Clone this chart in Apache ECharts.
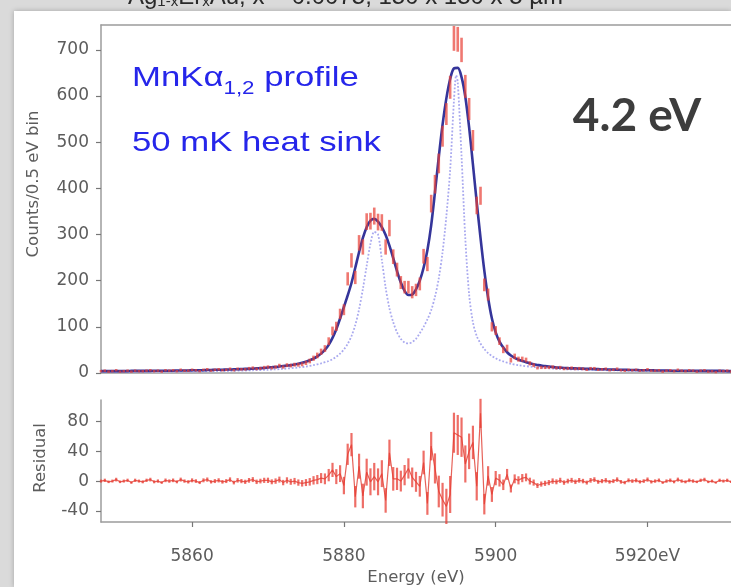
<!DOCTYPE html>
<html>
<head>
<meta charset="utf-8">
<script src="https://cdn.jsdelivr.net/npm/echarts@6.0.0/dist/echarts.min.js"></script>
<style>
  html, body { margin: 0; padding: 0; background: #dadada; }
  .panel {
    position: absolute; left: 14px; top: 11px; width: 717px; height: 576px;
    background: #ffffff; box-shadow: 0 0 5px rgba(0, 0, 0, 0.25);
  }
  #chart { position: absolute; left: 0; top: 0; width: 731px; height: 587px; }
</style>
</head>
<body>
<div class="panel"></div>
<div id="chart"></div>
<script>
// 0.5 eV bins, first bin at 5848 eV
const BIN_START = 5848;
const BIN_WIDTH = 0.5;

// measured counts per bin
const counts = [
  4, 5, 3, 4, 6, 3, 4, 5, 3, 5, 4, 4, 5, 6, 4, 5, 3, 6, 5, 6, 4, 7, 5, 5, 7, 6, 4, 7, 8, 5,
  7, 8, 6, 7, 9, 6, 9, 8, 8, 10, 11, 9, 10, 12,
  13, 11, 13, 16, 13, 17, 16, 18, 18, 19, 22, 26, 32, 38, 46, 53, 69, 91, 101, 128,
  137, 204, 244, 207, 282, 273, 328, 329, 340, 327, 326, 273, 314, 252, 224, 196, 186, 186, 175, 180,
  193, 253, 236, 367, 409, 454, 513, 561, 619, 725, 723, 700, 621, 572, 504, 363, 384, 191, 170, 100,
  92, 69, 50, 54, 28, 36, 30, 30, 28, 21, 17, 11, 12, 12, 12, 13, 11, 12, 9, 10, 11,
  9, 10, 9, 7, 10, 10, 7, 8, 9, 6, 7, 9, 6, 5, 7, 6, 7, 5, 6, 8,
  5, 5, 6, 3, 5, 6, 4, 7, 5, 4, 6, 5, 3, 5, 6, 3, 4, 2, 5, 4, 5, 3
];

// fitted profile, same bins
const fitCounts = [
  4, 4, 4, 4, 4, 4, 4, 4, 4.5, 4.5, 4.5, 4.5, 4.5, 4.5, 5, 5, 5, 5, 5, 5, 5.5, 5.5, 5.5, 5.5,
  6, 6, 6, 6, 6.5, 6.5, 7, 7, 7, 7.5, 7.5, 8, 8, 8.5, 9, 9, 9.5, 10, 10.5, 11,
  12, 12.5, 13, 14, 15, 16, 17, 18.5, 20, 22, 24.5, 27.5, 31, 36, 42, 50, 61, 76, 95, 118,
  143, 168, 195, 228, 262, 293, 316, 330, 334, 328, 316, 299, 276, 249, 221, 196, 178, 169, 170, 181,
  200, 228, 266, 320, 392, 468, 538, 595, 637, 660, 661, 641, 598, 532, 452, 370, 293, 222, 163, 118,
  88, 68, 55, 45, 38, 33, 29, 26, 23.5, 21, 19, 17.5, 16, 15, 14, 13, 12, 11.5, 11, 10.5, 10,
  10, 9.5, 9.5, 9, 9, 8.5, 8.5, 8, 8, 7.5, 7.5, 7, 7, 7, 6.5, 6.5, 6.5, 6, 6, 6,
  6, 5.5, 5.5, 5.5, 5.5, 5, 5, 5, 5, 5, 5, 5, 4.5, 4.5, 4.5, 4.5, 4.5, 4.5, 4.5, 4.5, 4, 4
];

// residual (data - fit), same bins
const residuals = [
  0, 1, -1, 0, 2, -1, 0, 1, -2, 1, 0, -1, 1, 2, -1, 0, -2, 1, 0, 1, -1, 2, 0, -1, 1, 0, -2, 1, 2, -1,
  0, 1, -1, 0, 2, -2, 1, 0, -1, 1, 2, -1, 0, 1,
  1, -1, 0, 2, -2, 1, -1, 0, -2, -3, -2, -1, 1, 2, 4, 3, 8, 15, 6, 10,
  -6, 36, 49, -21, 20, -20, 12, -1, 6, -1, 10, -26, 38, 3, 3, 0, 8, 17, 5, -1,
  -7, 25, -30, 47, 17, -14, -25, -34, -18, 65, 62, 59, 23, 40, 52, -7, 91, -31, 7, -18,
  4, 1, -5, 9, -10, 3, 1, 4, 5, 0, -2, -6, -4, -3, -2, 0, -1, 1, -2, 0, 1,
  -1, 1, 0, -2, 1, 2, -1, 0, 1, -1, 0, 2, -1, -2, 1, 0, 1, -1, 0, 2,
  -1, 0, 1, -2, 0, 1, -1, 2, 0, -1, 1, 0, -1, 1, 2, -1, 0, -2, 1, 0, 1, -1
];

// intrinsic (unbroadened) line shape, dotted
const intrinsicE = [
  5848, 5855, 5860, 5865, 5868, 5870, 5872, 5874, 5875, 5876, 5877, 5878, 5878.5, 5879, 5879.5,
  5880, 5880.5, 5881, 5881.5, 5882, 5882.5, 5883, 5883.5, 5884, 5884.5, 5885, 5885.5, 5886, 5886.5, 5887,
  5887.5, 5888, 5888.5, 5889, 5889.5, 5890, 5890.5, 5891, 5891.5, 5892, 5892.5, 5893, 5893.5, 5894, 5894.5,
  5894.8, 5895, 5895.5, 5896, 5896.5, 5897, 5897.5, 5898, 5898.5, 5899, 5899.5, 5900, 5900.5, 5901, 5902,
  5903, 5905, 5908, 5912, 5918, 5925, 5931
];
const intrinsicCounts = [
  2, 2.5, 3, 4.5, 6, 7, 9, 12, 14, 17, 21, 26, 30, 35, 42,
  51, 63, 80, 104, 138, 182, 232, 280, 306, 300, 245, 185, 140, 110, 88,
  74, 66, 64, 67, 74, 86, 100, 116, 136, 165, 205, 262, 340, 440, 590,
  645, 630, 470, 290, 170, 110, 80, 64, 52, 43, 37, 32, 28, 25, 20,
  17, 13, 9, 7, 5, 4, 3
];

const countTicks = [0, 100, 200, 300, 400, 500, 600, 700];
const residTicks = [-40, 0, 40, 80];
const residMinorTicks = [-20, 20, 60, 100];
const energyTicks = [5860, 5880, 5900, 5920];

const E_MIN = 5848;
const E_MAX = 5931;

const energies = counts.map((_, i) => BIN_START + i * BIN_WIDTH);
// poisson error bars
const dataBars = counts.map((c, i) => [energies[i], c - Math.sqrt(c), c + Math.sqrt(c)]);
const residBars = residuals.map((r, i) => [energies[i], r - Math.sqrt(counts[i]), r + Math.sqrt(counts[i])]);

const AXIS_COLOR = '#9c9c9c';
const LABEL_STYLE = { color: '#5c5c5c', fontFamily: 'DejaVu Sans', fontSize: 17 };

const errorBar = (color, width, minLen) => (params, api) => {
  const x = api.value(0);
  const p1 = api.coord([x, api.value(1)]);
  const p2 = api.coord([x, api.value(2)]);
  let y1 = p1[1];
  let y2 = p2[1];
  if (Math.abs(y1 - y2) < minLen) {
    const m = (y1 + y2) / 2;
    y1 = m + minLen / 2;
    y2 = m - minLen / 2;
  }
  return {
    type: 'line',
    shape: { x1: p1[0], y1: y1, x2: p1[0], y2: y2 },
    style: { stroke: color, lineWidth: width }
  };
};

const myChart = echarts.init(document.getElementById('chart'), null, { renderer: 'canvas' });

const option = {
  backgroundColor: 'transparent',
  animation: false,
  grid: [
    { left: 101, top: 25, right: 0, height: 348 },
    { left: 101, top: 400, right: 0, height: 123 }
  ],
  xAxis: [
    {
      gridIndex: 0, type: 'value', min: E_MIN, max: E_MAX, position: 'bottom',
      axisLine: { show: true, onZero: false, lineStyle: { color: AXIS_COLOR, width: 1.5 } },
      axisTick: { show: false }, axisLabel: { show: false }, splitLine: { show: false }
    },
    {
      gridIndex: 0, type: 'value', min: E_MIN, max: E_MAX, position: 'top',
      axisLine: { show: true, onZero: false, lineStyle: { color: AXIS_COLOR, width: 1.5 } },
      axisTick: { show: false }, axisLabel: { show: false }, splitLine: { show: false }
    },
    {
      gridIndex: 1, type: 'value', min: E_MIN, max: E_MAX, position: 'bottom',
      axisLine: { show: true, onZero: false, lineStyle: { color: AXIS_COLOR, width: 1.5 } },
      axisTick: { show: true, length: 5, customValues: energyTicks, lineStyle: { color: '#777', width: 1.2 } },
      axisLabel: {
        ...LABEL_STYLE, margin: 26, customValues: energyTicks,
        formatter: (v) => (v === 5920 ? v + 'eV' : String(v))
      },
      splitLine: { show: false },
      name: 'Energy (eV)', nameLocation: 'middle', nameGap: 47,
      nameTextStyle: { color: '#5c5c5c', fontFamily: 'DejaVu Sans', fontSize: 16.5 }
    }
  ],
  yAxis: [
    {
      gridIndex: 0, type: 'value', min: 0, max: 754,
      axisLine: { show: true, onZero: false, lineStyle: { color: AXIS_COLOR, width: 1.5 } },
      axisTick: { show: true, length: 5, customValues: countTicks, lineStyle: { color: '#777', width: 1.2 } },
      axisLabel: { ...LABEL_STYLE, margin: 12, customValues: countTicks },
      splitLine: { show: false }
    },
    {
      gridIndex: 1, type: 'value', min: -55, max: 109,
      axisLine: { show: true, onZero: false, lineStyle: { color: AXIS_COLOR, width: 1.5 } },
      axisTick: { show: true, length: 5, customValues: residTicks, lineStyle: { color: '#777', width: 1.2 } },
      axisLabel: { ...LABEL_STYLE, margin: 12, customValues: residTicks },
      splitLine: { show: false }
    },
    {
      gridIndex: 1, type: 'value', min: -55, max: 109,
      axisLine: { show: false },
      axisTick: { show: true, length: 3, customValues: residMinorTicks, lineStyle: { color: '#777', width: 1.2 } },
      axisLabel: { show: false },
      splitLine: { show: false }
    }
  ],
  series: [
    {
      name: 'intrinsic',
      type: 'line',
      xAxisIndex: 0, yAxisIndex: 0,
      data: intrinsicE.map((e, i) => [e, intrinsicCounts[i]]),
      smooth: 0.3, symbol: 'none',
      lineStyle: { color: '#a9a9ef', width: 1.8, type: 'dotted' },
      z: 2
    },
    {
      name: 'fit',
      type: 'line',
      xAxisIndex: 0, yAxisIndex: 0,
      data: energies.map((e, i) => [e, fitCounts[i]]),
      smooth: 0.3, symbol: 'none',
      lineStyle: { color: '#35359a', width: 2.6 },
      z: 3
    },
    {
      name: 'data',
      type: 'custom',
      xAxisIndex: 0, yAxisIndex: 0,
      data: dataBars,
      encode: { x: 0, y: [1, 2] },
      renderItem: errorBar('rgba(232, 62, 52, 0.7)', 2.6, 2.5),
      z: 4
    },
    {
      name: 'residual line',
      type: 'line',
      xAxisIndex: 2, yAxisIndex: 1,
      data: energies.map((e, i) => [e, residuals[i]]),
      symbol: 'none',
      lineStyle: { color: 'rgba(226, 70, 60, 0.85)', width: 1.2 },
      z: 3
    },
    {
      name: 'residual',
      type: 'custom',
      xAxisIndex: 2, yAxisIndex: 1,
      data: residBars,
      encode: { x: 0, y: [1, 2] },
      renderItem: errorBar('rgba(232, 62, 52, 0.75)', 2.2, 2),
      z: 4
    }
  ],
  graphic: [
    {
      type: 'text', x: 128, y: 9,
      style: {
        text: 'Ag{s|1-x}Er{s|x}Au, x = 0.0075, 150 x 150 x 5 µm',
        fill: '#2a2a2a', font: '24px "Liberation Sans"', verticalAlign: 'bottom',
        rich: { s: { fontSize: 15, fontFamily: 'Liberation Sans', fill: '#2a2a2a', verticalAlign: 'bottom' } }
      }
    },
    {
      type: 'text', x: 132, y: 58, scaleX: 1.24,
      style: {
        text: '{m|MnKα}{sub|1,2}{m| profile}',
        fill: '#2626ea', verticalAlign: 'top',
        rich: {
          m: { fontSize: 28, fontFamily: 'Liberation Sans', fill: '#2626ea', lineHeight: 40 },
          sub: { fontSize: 18, fontFamily: 'Liberation Sans', fill: '#2626ea', lineHeight: 18, verticalAlign: 'bottom' }
        }
      }
    },
    {
      type: 'text', x: 132, y: 123, scaleX: 1.24,
      style: {
        text: '{m|50 mK heat sink}',
        fill: '#2626ea', verticalAlign: 'top',
        rich: { m: { fontSize: 28, fontFamily: 'Liberation Sans', fill: '#2626ea', lineHeight: 40 } }
      }
    },
    {
      type: 'text', x: 637, y: 116,
      style: {
        text: '4.2 eV', fill: '#3d3d3d', font: 'bold 46px Lato',
        align: 'center', verticalAlign: 'middle'
      }
    },
    {
      type: 'text', x: 34, y: 184, rotation: Math.PI / 2,
      style: {
        text: 'Counts/0.5 eV bin', fill: '#5c5c5c', font: '16.5px "DejaVu Sans"',
        align: 'center', verticalAlign: 'middle'
      }
    },
    {
      type: 'text', x: 41, y: 458, rotation: Math.PI / 2,
      style: {
        text: 'Residual', fill: '#5c5c5c', font: '16.5px "DejaVu Sans"',
        align: 'center', verticalAlign: 'middle'
      }
    }
  ]
};

myChart.setOption(option);
</script>
</body>
</html>
